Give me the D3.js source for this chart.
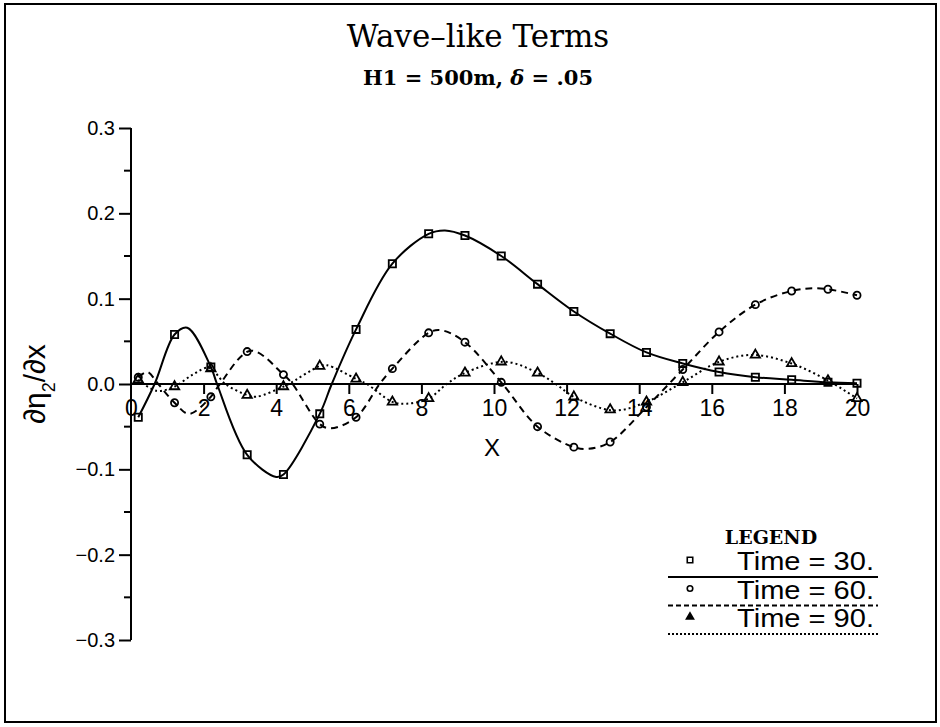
<!DOCTYPE html>
<html><head><meta charset="utf-8">
<script src="https://cdn.jsdelivr.net/npm/d3@7"></script>
<style>body{margin:0;background:#fff}</style>
</head><body>
<svg id="c" width="940" height="727"></svg>
<script>
// ---- data ----
const xTicks = [0,2,4,6,8,10,12,14,16,18,20];
const xTickLabels = ["0","2","4","6","8","10","12","14","16","18","20"];
const yTicks = [-0.3,-0.2,-0.1,0.0,0.1,0.2,0.3];
const yTickLabels = ["\u22120.3","\u22120.2","\u22120.1","0.0","0.1","0.2","0.3"];
const yMinorTicks = [-0.25,-0.15,-0.05,0.05,0.15,0.25];
const seriesNames = ["Time = 30.","Time = 60.","Time = 90."];
const markerX = [0.2,1.2,2.2,3.2,4.2,5.2,6.2,7.2,8.2,9.2,10.2,11.2,12.2,13.2,14.2,15.2,16.2,17.2,18.2,19.2,20];
const t30Markers = [-0.039,0.058,0.020,-0.083,-0.106,-0.035,0.064,0.141,0.176,0.174,0.150,0.117,0.085,0.059,0.037,0.024,0.014,0.008,0.005,0.002,0.001];
const t60Markers = [0.008,-0.022,-0.015,0.038,0.011,-0.047,-0.039,0.018,0.060,0.049,0.002,-0.050,-0.074,-0.068,-0.027,0.017,0.061,0.093,0.109,0.111,0.104];
const t90Markers = [0.005,-0.003,0.018,-0.013,-0.003,0.021,0.006,-0.021,-0.017,0.013,0.026,0.013,-0.015,-0.030,-0.021,0.002,0.026,0.034,0.024,0.004,-0.017];
const t30Line = [[0.2,-0.039],[0.65,0.0],[1.2,0.058],[1.55,0.066],[2.2,0.020],[2.37,0.0],[3.2,-0.083],[4.0,-0.109],[4.2,-0.106],[5.2,-0.035],[5.53,0.0],[6.2,0.064],[7.2,0.141],[8.2,0.176],[8.65,0.180],[9.2,0.174],[10.2,0.150],[11.2,0.117],[12.2,0.085],[13.2,0.059],[14.2,0.037],[15.2,0.024],[16.2,0.014],[17.2,0.008],[18.2,0.005],[19.2,0.002],[20,0.001]];
const t60Line = [[0.2,0.008],[0.45,0.014],[0.75,0.0],[1.2,-0.022],[1.6,-0.035],[2.2,-0.015],[2.45,0.0],[3.3,0.039],[4.2,0.011],[4.45,0.0],[5.2,-0.047],[5.5,-0.052],[6.2,-0.039],[6.85,0.0],[7.2,0.018],[8.2,0.060],[8.55,0.063],[9.2,0.049],[10.2,0.002],[11.2,-0.050],[12.2,-0.074],[12.6,-0.076],[13.2,-0.068],[14.2,-0.027],[15.2,0.017],[16.2,0.061],[17.2,0.093],[18.2,0.109],[19.0,0.112],[20,0.104]];
const t90Line = [[0.2,0.005],[0.7,-0.008],[1.2,-0.003],[1.7,0.011],[2.15,0.019],[2.6,0.0],[3.2,-0.013],[3.45,-0.015],[4.2,-0.003],[4.35,0.0],[5.2,0.021],[5.4,0.022],[6.2,0.006],[6.5,0.0],[7.2,-0.021],[7.6,-0.023],[8.2,-0.017],[8.7,0.0],[9.2,0.013],[10.3,0.026],[11.2,0.013],[11.7,0.0],[12.2,-0.015],[13.3,-0.031],[14.2,-0.021],[15.2,0.002],[16.2,0.026],[17.15,0.034],[18.2,0.024],[19.2,0.004],[20,-0.017]];

// ---- drawing ----
const svg = d3.select("#c");
const x = d3.scaleLinear().domain([0,20]).range([131,857]);
const y = d3.scaleLinear().domain([-0.3,0.3]).range([640,128]);
const sans = "'Liberation Sans', Arial, sans-serif";
const serif = "'DejaVu Serif', serif";

svg.append("rect").attr("x",5).attr("y",4).attr("width",931).attr("height",718)
  .attr("fill","none").attr("stroke","#000").attr("stroke-width",2);

svg.append("text").attr("x",478).attr("y",47).attr("text-anchor","middle")
  .style("font-family",serif).style("font-size","31px").text("Wave\u2013like Terms");
const st = svg.append("text").attr("x",478).attr("y",85).attr("text-anchor","middle")
  .style("font-family",serif).style("font-size","21px").style("font-weight","bold");
st.append("tspan").text("H1 = 500m, ");
st.append("tspan").style("font-style","italic").text("\u03B4");
st.append("tspan").text(" = .05");

// y axis
const yAxis = d3.axisLeft(y).tickValues(yTicks).tickSize(12).tickPadding(4)
  .tickFormat((d,i)=>yTickLabels[i]);
const gy = svg.append("g").attr("transform",`translate(${x(0)},0)`).call(yAxis);
gy.select(".domain").attr("stroke","#000").attr("stroke-width",2).attr("d",`M0,${y(-0.3)}V${y(0.3)}`);
gy.selectAll(".tick line").attr("stroke-width",2);
gy.selectAll(".tick text").style("font-family",sans).style("font-size","20px").attr("fill","#000");
svg.append("g").selectAll("line").data(yMinorTicks).join("line")
  .attr("x1",x(0)-7).attr("x2",x(0)).attr("y1",d=>y(d)).attr("y2",d=>y(d))
  .attr("stroke","#000").attr("stroke-width",2);

// x axis at y=0
const xAxis = d3.axisBottom(x).tickValues(xTicks).tickSize(10).tickPadding(6)
  .tickFormat((d,i)=>xTickLabels[i]);
const gx = svg.append("g").attr("transform",`translate(0,${y(0)})`).call(xAxis);
gx.select(".domain").attr("stroke","#000").attr("stroke-width",2).attr("d",`M${x(0)},0H${x(20)}`);
gx.selectAll(".tick line").attr("stroke-width",2);
gx.selectAll(".tick text").style("font-family",sans).style("font-size","23px").attr("fill","#000");
gx.selectAll(".tick").filter(d=>d===0).select("line").remove();

svg.append("text").attr("x",492).attr("y",456).attr("text-anchor","middle")
  .style("font-family",sans).style("font-size","24px").text("X");

const yl = svg.append("text").attr("transform","translate(45,384) rotate(-90)")
  .attr("text-anchor","middle").style("font-family",sans).style("font-size","30px");
yl.append("tspan").text("\u2202\u03B7");
yl.append("tspan").attr("baseline-shift","sub").style("font-size","18px").text("2");
yl.append("tspan").text("/\u2202x");

// lines
const line = d3.line().x(d=>x(d[0])).y(d=>y(d[1])).curve(d3.curveCatmullRom.alpha(0.5));
const styles = [
  {data:t30Line, dash:null},
  {data:t60Line, dash:"7,5"},
  {data:t90Line, dash:"2,3"}
];
styles.forEach(s=>{
  svg.append("path").attr("d",line(s.data)).attr("fill","none").attr("stroke","#000")
    .attr("stroke-width",2).attr("stroke-dasharray",s.dash);
});

// markers
const sqr = d3.symbol().type(d3.symbolSquare).size(52);
const cir = d3.symbol().type(d3.symbolCircle).size(40);
const tri = d3.symbol().type(d3.symbolTriangle).size(38);
function drawMarkers(vals, sym){
  svg.append("g").selectAll("path").data(vals).join("path")
    .attr("transform",(d,i)=>`translate(${x(markerX[i])},${y(d)})`)
    .attr("d",sym).attr("fill","none").attr("stroke","#000").attr("stroke-width",1.8);
}
drawMarkers(t30Markers, sqr);
drawMarkers(t60Markers, cir);
drawMarkers(t90Markers, tri);

// legend
svg.append("text").attr("x",771).attr("y",544).attr("text-anchor","middle")
  .style("font-family",serif).style("font-size","19px").style("font-weight","bold").text("LEGEND");
const legSyms = [d3.symbol().type(d3.symbolSquare).size(30), d3.symbol().type(d3.symbolCircle).size(24), d3.symbol().type(d3.symbolTriangle).size(22)];
const legFill = ["none","none","#000"];
const dashes = [null,"5,3","2,2"];
seriesNames.forEach((n,i)=>{
  const by = 570 + i*28.5;
  svg.append("path").attr("d",legSyms[i]).attr("transform",`translate(690,${by-10})`)
    .attr("fill",legFill[i]).attr("stroke","#000").attr("stroke-width",1.6);
  svg.append("text").attr("x",737).attr("y",by).attr("text-anchor","start")
    .attr("textLength",137).attr("lengthAdjust","spacingAndGlyphs")
    .style("font-family",sans).style("font-size","26px").text(n);
  svg.append("line").attr("x1",668).attr("x2",878).attr("y1",by+7).attr("y2",by+7)
    .attr("stroke","#000").attr("stroke-width",2).attr("stroke-dasharray",dashes[i]);
});
</script>
</body></html>
